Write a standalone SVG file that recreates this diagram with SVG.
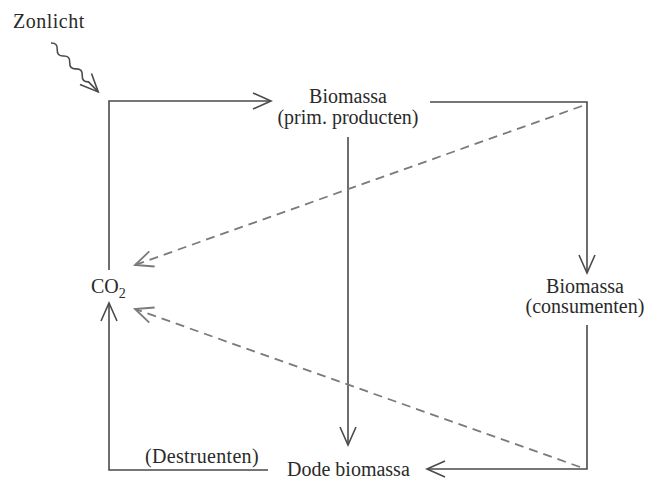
<svg xmlns="http://www.w3.org/2000/svg" width="646" height="479" viewBox="0 0 646 479">
<style>
text{font-family:"Liberation Serif","Times New Roman",serif;font-size:20px;fill:#2a2a2a}
.ln{fill:none;stroke:#4a4a4a;stroke-width:1.6}
.ds{fill:none;stroke:#7a7a7a;stroke-width:1.8;stroke-dasharray:9 6}
</style>
<defs>
<marker id="ah" markerUnits="userSpaceOnUse" markerWidth="22" markerHeight="20" viewBox="0 0 22 20" refX="19" refY="10" orient="auto">
<path d="M1,2 L19,10 L1,18" fill="none" stroke="#4a4a4a" stroke-width="1.6"/>
</marker>
<marker id="ahg" markerUnits="userSpaceOnUse" markerWidth="22" markerHeight="20" viewBox="0 0 22 20" refX="19" refY="10" orient="auto">
<path d="M1,2 L19,10 L1,18" fill="none" stroke="#7a7a7a" stroke-width="1.8"/>
</marker>
</defs>
<g id="zonlicht">
<text x="13" y="28" letter-spacing="0.5">Zonlicht</text>
</g>
<g id="co2">
<text x="91" y="293">CO<tspan font-size="14" dy="5">2</tspan></text>
</g>
<g id="biomassa-prim">
<text x="348" y="103" text-anchor="middle">Biomassa</text>
<text x="348" y="124" text-anchor="middle">(prim. producten)</text>
</g>
<g id="biomassa-cons">
<text x="585" y="293" text-anchor="middle">Biomassa</text>
<text x="585" y="313" text-anchor="middle">(consumenten)</text>
</g>
<g id="dode-biomassa">
<text x="287" y="476">Dode biomassa</text>
</g>
<g id="destruenten">
<text x="145" y="463" letter-spacing="0.3">(Destruenten)</text>
</g>
<g id="connectors">
<g transform="translate(51,43) rotate(46)">
<path class="ln" d="M0,0 q4.5,-5 9,0 t9,0 t9,0 t9,0 t9,0 t9,0 L68,0" marker-end="url(#ah)"/>
</g>
<path class="ln" d="M109,270 V101 H271" marker-end="url(#ah)"/>
<path class="ln" d="M430,102 H587 V273" marker-end="url(#ah)"/>
<path class="ln" d="M587,325 V469 H427" marker-end="url(#ah)"/>
<path class="ln" d="M268,470 H109 V303" marker-end="url(#ah)"/>
<path class="ln" d="M348,137 V445" marker-end="url(#ah)"/>
<path class="ds" d="M582,106 L135,265" marker-end="url(#ahg)"/>
<path class="ds" d="M580,467 L135,309" marker-end="url(#ahg)"/>
</g>
</svg>
